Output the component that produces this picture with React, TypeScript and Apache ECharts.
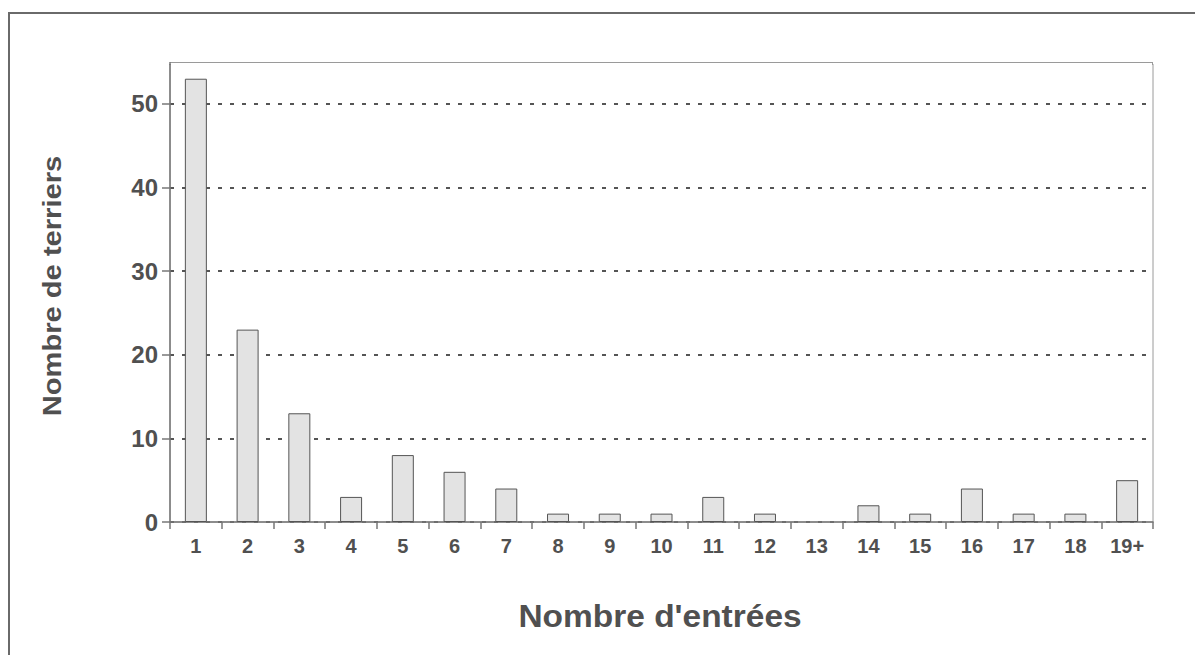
import React, { useEffect, useRef } from "react";
import * as echarts from "echarts";

const categories = ["1", "2", "3", "4", "5", "6", "7", "8", "9", "10", "11", "12", "13", "14", "15", "16", "17", "18", "19+"];
const burrowCounts = [53, 23, 13, 3, 8, 6, 4, 1, 1, 1, 3, 1, 0, 2, 1, 4, 1, 1, 5];
const yTicks = [0, 10, 20, 30, 40, 50];
const xTitle = "Nombre d'entrées";
const yTitle = "Nombre de terriers";

export default function App() {
  const ref = useRef<HTMLDivElement>(null);
  useEffect(() => {
    document.body.style.margin = "0";
    const chart = echarts.init(ref.current!, null, { renderer: "svg" });
    const textColor = "#505050";
    const left = 170;
    const top = 62;
    const right = 42;
    const width = 1195 - left - right;
    chart.setOption({
      animation: false,
      backgroundColor: "#ffffff",
      grid: {
        left,
        top,
        right,
        bottom: 133,
        show: true,
        borderColor: "#9a9a9a",
        borderWidth: 1,
        backgroundColor: "transparent",
      },
      xAxis: {
        type: "category",
        data: categories,
        boundaryGap: true,
        axisLine: { show: true, lineStyle: { color: "#777", width: 1.5 } },
        axisTick: { show: true, alignWithLabel: false, length: 7, inside: false, lineStyle: { color: "#777", width: 1.5 } },
        axisLabel: {
          color: textColor,
          fontFamily: "Liberation Sans, Arial, sans-serif",
          fontWeight: "bold",
          fontSize: 20,
          margin: 14,
          interval: 0,
        },
        splitLine: { show: false },
      },
      yAxis: {
        type: "value",
        min: 0,
        max: 55,
        interval: 10,
        axisLine: { show: true, lineStyle: { color: "#777", width: 1.5 } },
        axisTick: { show: true, length: 8, lineStyle: { color: "#777", width: 1.5 } },
        axisLabel: {
          color: textColor,
          fontFamily: "Liberation Sans, Arial, sans-serif",
          fontWeight: "bold",
          fontSize: 24,
          margin: 12,
          formatter: (v: number) => (yTicks.includes(v) ? String(v) : ""),
        },
        splitLine: {
          show: true,
          lineStyle: { color: "#555", width: 2, type: [4, 8] },
        },
      },
      series: [
        {
          type: "bar",
          data: burrowCounts.map((v) => ({
            value: v,
            itemStyle: v === 0 ? { borderWidth: 0, opacity: 0 } : undefined,
          })),
          barWidth: 22,
          itemStyle: {
            color: "#e3e3e3",
            borderColor: "#555",
            borderWidth: 1,
          },
        },
      ],
      graphic: [
        {
          type: "rect",
          shape: { x: 9, y: 13, width: 1300, height: 800 },
          style: { fill: "none", stroke: "#6a6a6a", lineWidth: 2 },
          silent: true,
        },
        {
          type: "line",
          shape: { x1: left - 10, y1: top, x2: left + width + 1, y2: top },
          style: { stroke: "#ffffff", lineWidth: 4 },
          z: 50,
          silent: true,
        },
        {
          type: "line",
          shape: { x1: left, y1: top + 0.5, x2: left + width, y2: top + 0.5 },
          style: { stroke: "#9a9a9a", lineWidth: 1 },
          z: 51,
          silent: true,
        },
        {
          type: "line",
          shape: { x1: left, y1: top, x2: left, y2: top + 3 },
          style: { stroke: "#777", lineWidth: 1.5 },
          z: 51,
          silent: true,
        },
        {
          type: "line",
          shape: { x1: left + width - 0.5, y1: top, x2: left + width - 0.5, y2: top + 3 },
          style: { stroke: "#9a9a9a", lineWidth: 1 },
          z: 51,
          silent: true,
        },
        {
          type: "text",
          x: 52,
          y: 286,
          rotation: Math.PI / 2,
          scaleX: 1.12,
          style: {
            text: yTitle,
            fill: textColor,
            font: "bold 26px 'Liberation Sans', Arial, sans-serif",
            align: "center",
            verticalAlign: "middle",
          },
        },
        {
          type: "text",
          x: 660,
          y: 616,
          scaleX: 1.08,
          style: {
            text: xTitle,
            fill: textColor,
            font: "bold 31px 'Liberation Sans', Arial, sans-serif",
            align: "center",
            verticalAlign: "middle",
          },
        },
      ],
    });
    return () => chart.dispose();
  }, []);
  return (
    <div
      ref={ref}
      style={{ position: "absolute", left: 0, top: 0, width: 1195, height: 655 }}
    />
  );
}
